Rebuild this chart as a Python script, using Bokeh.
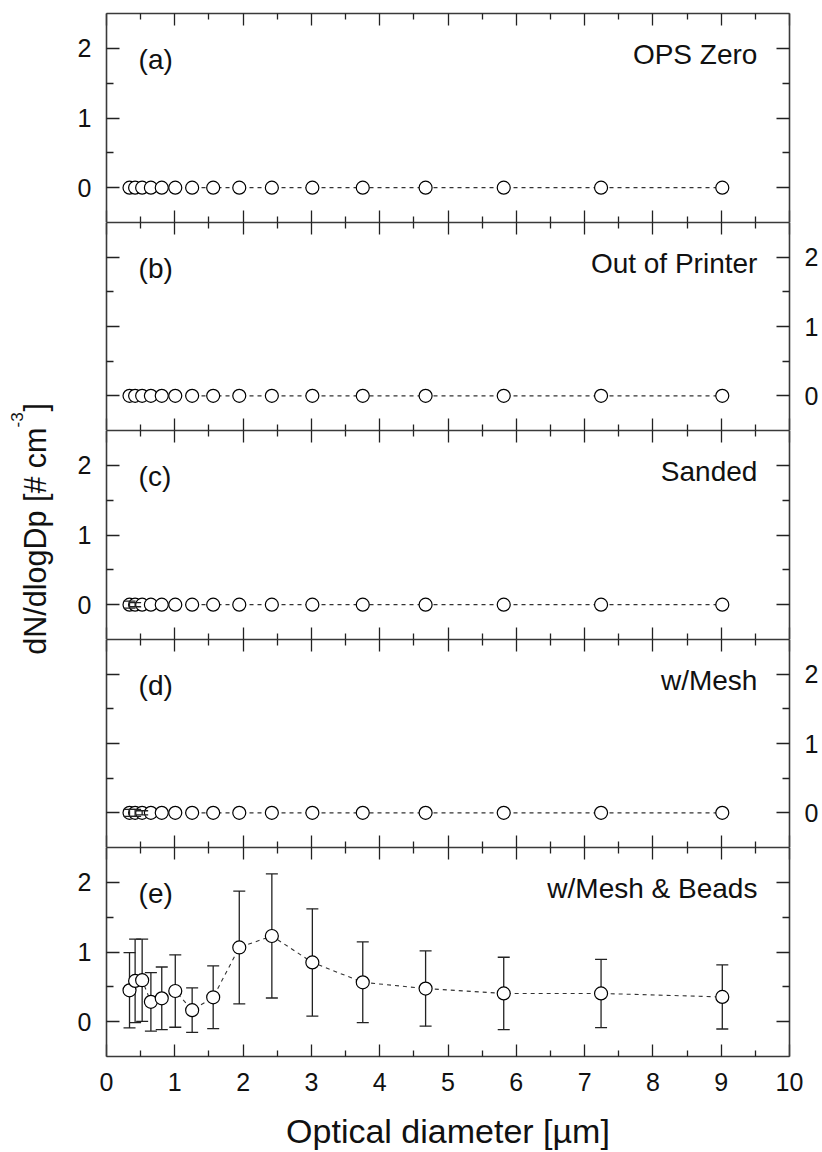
import math
from bokeh.plotting import figure
from bokeh.models import (Range1d, LinearAxis, FixedTicker, Label, Whisker,
                          ColumnDataSource, TeeHead, CustomJSTickFormatter)
from bokeh.layouts import row, column
from bokeh.embed import file_html
from bokeh.resources import INLINE

# ---------------- data ----------------
diameters = [0.337, 0.419, 0.522, 0.650, 0.809, 1.007, 1.254, 1.562,
             1.944, 2.421, 3.014, 3.752, 4.672, 5.816, 7.241, 9.016]

panel_tags = ["(a)", "(b)", "(c)", "(d)", "(e)"]
panel_names = ["OPS Zero", "Out of Printer", "Sanded", "w/Mesh", "w/Mesh & Beads"]

vals_a = [0, 0, 0, 0, 0, 0, 0, 0, 0, 0, 0, 0, 0, 0, 0, 0]
err_a = [0, 0, 0, 0, 0, 0, 0, 0, 0, 0, 0, 0, 0, 0, 0, 0]
vals_b = [0, 0, 0, 0, 0, 0, 0, 0, 0, 0, 0, 0, 0, 0, 0, 0]
err_b = [0, 0, 0, 0, 0, 0, 0, 0, 0, 0, 0, 0, 0, 0, 0, 0]
vals_c = [0, 0, 0, 0, 0, 0, 0, 0, 0, 0, 0, 0, 0, 0, 0, 0]
err_c = [0.05, 0.03, 0, 0, 0, 0, 0, 0, 0, 0, 0, 0, 0, 0, 0, 0]
vals_d = [0, 0, 0, 0, 0, 0, 0, 0, 0, 0, 0, 0, 0, 0, 0, 0]
err_d = [0.05, 0.05, 0.03, 0, 0, 0, 0, 0, 0, 0, 0, 0, 0, 0, 0, 0]
vals_e = [0.45, 0.585, 0.595, 0.285, 0.335, 0.44, 0.165, 0.35,
          1.065, 1.23, 0.85, 0.565, 0.475, 0.405, 0.405, 0.355]
err_e = [0.54, 0.60, 0.59, 0.42, 0.45, 0.52, 0.32, 0.45,
         0.81, 0.89, 0.77, 0.58, 0.54, 0.52, 0.49, 0.46]

x_major = [0, 1, 2, 3, 4, 5, 6, 7, 8, 9, 10]
x_minor = [0.5, 1.5, 2.5, 3.5, 4.5, 5.5, 6.5, 7.5, 8.5, 9.5]
y_major = [0, 1, 2]
y_minor = [0.5, 1.5]

x_title = "Optical diameter [µm]"
y_title_main = "dN/dlogDp [# cm"
y_title_sup = "-3"
y_title_end = "]"

FONT = "Liberation Sans"
INK = "#111111"
AXC = "#3a3a3a"

FW = 683
frame_heights = [209, 208, 209, 208, 209]
top_borders = [13, 0, 0, 0, 0]
bottom_borders = [0, 0, 0, 0, 94]
labels_right = [False, True, False, True, False]
errs_on_top = [True, True, True, True, False]
all_vals = [vals_a, vals_b, vals_c, vals_d, vals_e]
all_errs = [err_a, err_b, err_c, err_d, err_e]


def style_axis(ax, is_x, show_labels):
    ax.ticker = FixedTicker(ticks=x_major if is_x else y_major,
                            minor_ticks=x_minor if is_x else y_minor)
    ax.axis_line_color = AXC
    ax.axis_line_width = 1.6
    ax.major_tick_line_color = "#222222"
    ax.minor_tick_line_color = "#222222"
    ax.major_tick_line_width = 1.3
    ax.minor_tick_line_width = 1.3
    ax.major_tick_out = 0
    ax.minor_tick_out = 0
    ax.major_tick_in = 12 if is_x else 13
    ax.minor_tick_in = 6 if is_x else 7
    if show_labels:
        ax.major_label_text_font = FONT
        ax.major_label_text_font_size = "25px"
        ax.major_label_text_color = INK
        ax.major_label_standoff = 16 if is_x else 15
    else:
        ax.formatter = CustomJSTickFormatter(code="return ''")
        ax.major_label_text_font_size = "0px"
        ax.major_label_standoff = 0


panels = []
for i in range(5):
    p = figure(frame_width=FW, frame_height=frame_heights[i],
               x_range=Range1d(0, 10), y_range=Range1d(-0.5, 2.5),
               output_backend="svg", toolbar_location=None,
               x_axis_location=None, y_axis_location=None,
               min_border_left=48, min_border_right=30,
               min_border_top=top_borders[i], min_border_bottom=bottom_borders[i],
               outline_line_color=None, background_fill_color="white",
               border_fill_color="white")
    p.grid.visible = False

    last = (i == 4)
    ax_below = LinearAxis()
    style_axis(ax_below, True, last)
    if last:
        ax_below.axis_label = x_title
        ax_below.axis_label_text_font = FONT
        ax_below.axis_label_text_font_size = "34px"
        ax_below.axis_label_text_font_style = "normal"
        ax_below.axis_label_text_color = INK
        ax_below.axis_label_standoff = 18
    p.add_layout(ax_below, "below")
    ax_above = LinearAxis()
    style_axis(ax_above, True, False)
    p.add_layout(ax_above, "above")
    ax_left = LinearAxis()
    style_axis(ax_left, False, not labels_right[i])
    p.add_layout(ax_left, "left")
    ax_right = LinearAxis()
    style_axis(ax_right, False, labels_right[i])
    p.add_layout(ax_right, "right")

    vals = all_vals[i]
    errs = all_errs[i]
    p.line(diameters, vals, line_color="#333333", line_width=1.1, line_dash="4 4")

    bx = [d for d, e in zip(diameters, errs) if e > 0]
    bu = [v + e for v, e in zip(vals, errs) if e > 0]
    bl = [v - e for v, e in zip(vals, errs) if e > 0]
    if bx:
        src = ColumnDataSource(dict(base=bx, upper=bu, lower=bl))
        wh = Whisker(base="base", upper="upper", lower="lower", source=src,
                     dimension="height", line_color="#222222", line_width=1.3,
                     upper_head=TeeHead(size=12, line_color="#222222", line_width=1.3),
                     lower_head=TeeHead(size=12, line_color="#222222", line_width=1.3))
        wh.level = "annotation" if errs_on_top[i] else "underlay"
        p.add_layout(wh)

    p.scatter(diameters, vals, marker="circle", size=13, fill_color="white",
              line_color="black", line_width=1.2)

    p.add_layout(Label(x=0.47, y=1.84, text=panel_tags[i], text_font=FONT,
                       text_font_size="28px", text_color=INK,
                       text_align="left", text_baseline="middle"))
    p.add_layout(Label(x=9.53, y=1.91, text=panel_names[i], text_font=FONT,
                       text_font_size="28px", text_color=INK,
                       text_align="right", text_baseline="middle"))
    panels.append(p)

H = sum(frame_heights) + sum(top_borders) + sum(bottom_borders)
W0 = 58

yl = figure(width=W0, height=H, x_range=Range1d(0, W0), y_range=Range1d(0, H),
            min_border=0, x_axis_location=None, y_axis_location=None,
            toolbar_location=None, output_backend="svg", outline_line_color=None)
yl.grid.visible = False


def py(v):
    # page y (from top) -> data y of this strip
    return H - v


yl.add_layout(Label(x=34.5, y=py(427), text=y_title_main, angle=math.pi / 2,
                    text_font=FONT, text_font_size="30.5px", text_color=INK,
                    text_align="right", text_baseline="middle"))
yl.add_layout(Label(x=16, y=py(427), text=y_title_sup, angle=math.pi / 2,
                    text_font=FONT, text_font_size="17px", text_color=INK,
                    text_align="left", text_baseline="middle"))
yl.add_layout(Label(x=34.5, y=py(411), text=y_title_end, angle=math.pi / 2,
                    text_font=FONT, text_font_size="30.5px", text_color=INK,
                    text_align="left", text_baseline="middle"))

layout = row(yl, column(*panels, spacing=0), spacing=0)

open("out.html", "w").write(file_html(layout, INLINE))
